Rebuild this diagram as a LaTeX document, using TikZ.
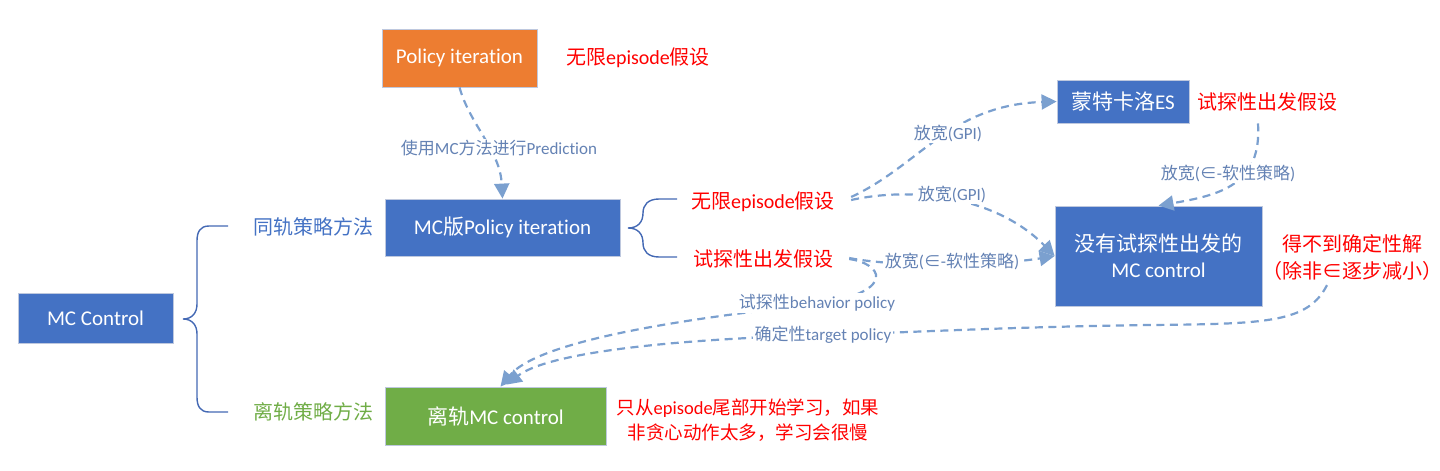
\documentclass[tikz,border=0pt]{standalone}
\usepackage{fontspec}
\setmainfont{Carlito}[Ligatures=NoCommon]
\newfontfamily\cjkf{Noto Sans CJK SC}
\newcommand\zh[1]{{\cjkf #1}}
\usetikzlibrary{arrows.meta,calc}
\definecolor{bxblue}{RGB}{68,114,196}
\definecolor{bxorange}{RGB}{237,125,49}
\definecolor{bxgreen}{RGB}{112,173,71}
\definecolor{lnblue}{RGB}{123,160,207}
\definecolor{lbblue}{RGB}{100,130,180}
\definecolor{bxedge}{RGB}{190,200,222}
\definecolor{brc}{RGB}{68,105,180}
\begin{document}
\begin{tikzpicture}[x=1pt,y=-1pt,
  box/.style={draw=bxedge, line width=0.8pt, text=white, font=\fontsize{21}{26}\selectfont, inner sep=0pt, align=center},
  lab/.style={fill=white, text=lbblue, font=\fontsize{17}{20}\selectfont, inner sep=1.5pt},
  redtxt/.style={text=red, font=\fontsize{20}{27}\selectfont, inner sep=0pt, align=center},
  conn/.style={lnblue, line width=2.2pt, dash pattern=on 8pt off 5.5pt, -{Triangle[length=15pt,width=15pt]}},
  brace/.style={brc, line width=1.4pt}]
\useasboundingbox (0,0) rectangle (1440,471);

% boxes
\node[box, fill=bxorange, minimum width=155pt, minimum height=58pt] (pi) at (459.5,58) {Policy iteration};
\node[box, fill=bxblue, minimum width=132pt, minimum height=43pt] (es) at (1123,101.5) {\zh{蒙特卡洛}ES};
\node[box, fill=bxblue, minimum width=235pt, minimum height=57pt] (mcpi) at (502.5,227.5) {MC\zh{版}Policy iteration};
\node[box, fill=bxblue, minimum width=207pt, minimum height=100pt] (noes) at (1158.5,256) {\zh{没有试探性出发的}\\MC control};
\node[box, fill=bxblue, minimum width=155pt, minimum height=50pt] (mcc) at (95.5,318.5) {MC Control};
\node[box, fill=bxgreen, minimum width=221pt, minimum height=58pt] (off) at (495.5,416) {\zh{离轨}MC control};

% texts
\node[redtxt] (r1) at (638,58) {\zh{无限}episode\zh{假设}};
\node[redtxt] (r2) at (1267,102) {\zh{试探性出发假设}};
\node[redtxt] (h1) at (763,202) {\zh{无限}episode\zh{假设}};
\node[redtxt] (h2) at (763,259) {\zh{试探性出发假设}};
\node[redtxt] (r3) at (1352,257) {\zh{得不到确定性解}\\\zh{（除非∈逐步减小）}};
\node[redtxt, font=\fontsize{18.5}{25}\selectfont] (r4) at (748,420) {\zh{只从}episode\zh{尾部开始学习，如果}\\\zh{非贪心动作太多，学习会很慢}};
\node[text=bxblue, font=\fontsize{20}{24}\selectfont, inner sep=0pt] (on) at (313,227) {\zh{同轨策略方法}};
\node[text=bxgreen, font=\fontsize{20}{24}\selectfont, inner sep=0pt] (offt) at (313,412) {\zh{离轨策略方法}};

% braces
\draw[brace] (228,226) -- (209,226) .. controls (200,226) and (197,232) .. (197,241) -- (197,304)
  .. controls (197,313) and (192,319) .. (183,319)
  .. controls (192,319) and (197,325) .. (197,334) -- (197,397)
  .. controls (197,406) and (200,412) .. (209,412) -- (228,412);
\draw[brace] (677,199) -- (659,199) .. controls (648,199) and (643,205) .. (643,213)
  .. controls (643,222) and (638,228) .. (628,228)
  .. controls (638,228) and (643,234) .. (643,243)
  .. controls (643,251) and (648,257) .. (659,257) -- (677,257);

% connectors
\draw[conn] (pi.south) .. controls (470,125) and (500,150) .. (mcpi.north);
\draw[conn] ($(h1.east)+(16,-5)$) .. controls (920,165) and (950,105) .. (es.west);
\draw[conn] ($(h1.east)+(16,-2)$) .. controls (920,185) and (1000,200) .. (noes.west);
\draw[conn] ($(h2.east)+(16,-1)$) .. controls (900,268) and (1000,265) .. (noes.west);
\draw[conn] ($(r2.south)+(-9,12)$) .. controls (1262,185) and (1220,195) .. (noes.north);
\draw[conn] ($(h2.east)+(16,0)$) .. controls (880,263) and (900,290) .. (820,304)
  .. controls (650,322) and (535,345) .. ($(off.north)+(5,0)$);
\draw[conn] ($(r3.south)+(-25,5)$) .. controls (1308,322) and (1270,324) .. (1150,325)
  .. controls (1000,327) and (900,333) .. (823,335)
  .. controls (650,340) and (545,355) .. ($(off.north)+(11,-2)$);

% labels
\node[lab] (l1) at (499,148) {\zh{使用}MC\zh{方法进行}Prediction};
\node[lab] (l2) at (948,133) {\zh{放宽}(GPI)};
\node[lab] (l3) at (952,194) {\zh{放宽}(GPI)};
\node[lab] (l4) at (952,261) {\zh{放宽}(\zh{∈}-\zh{软性策略})};
\node[lab] (l5) at (1228,173) {\zh{放宽}(\zh{∈}-\zh{软性策略})};
\node[lab] (l6) at (817,303) {\zh{试探性}behavior policy};
\node[lab] (l7) at (823,335) {\zh{确定性}target policy};
\end{tikzpicture}
\end{document}
